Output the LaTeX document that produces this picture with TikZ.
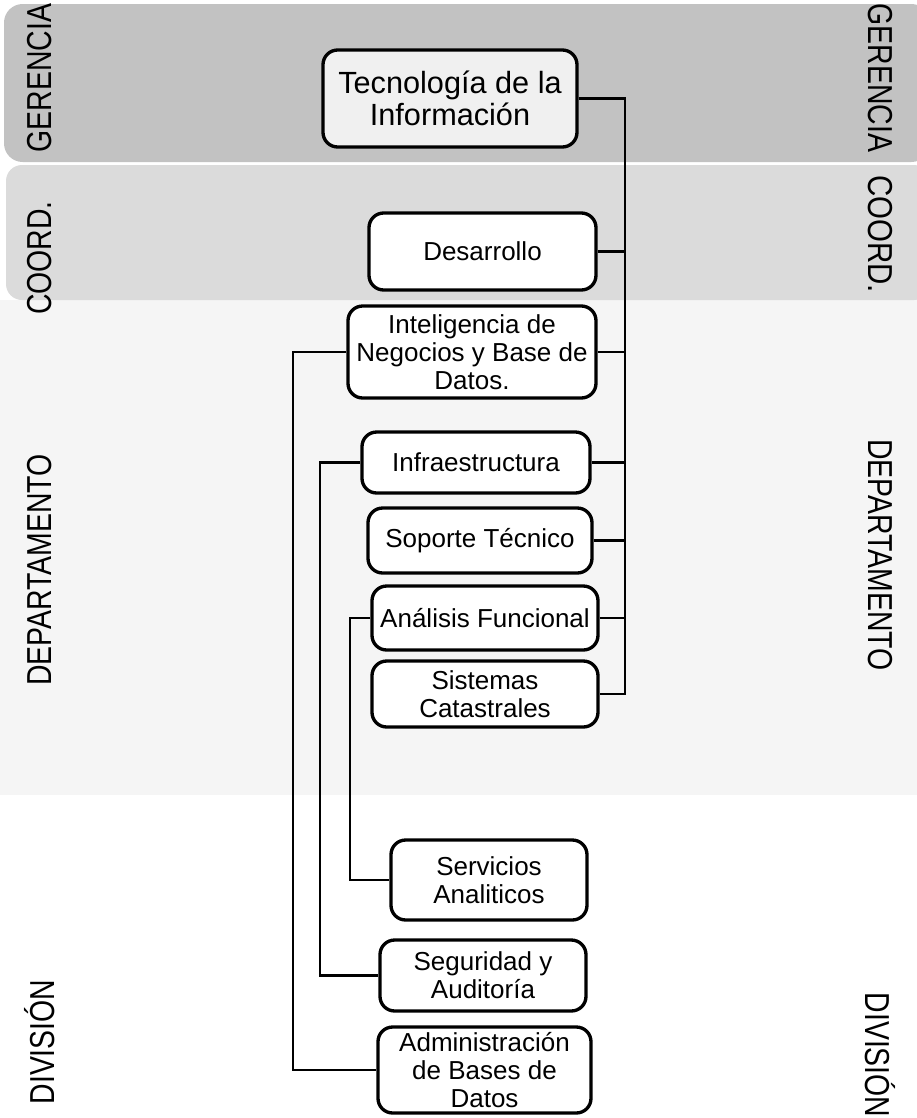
\documentclass[tikz,border=0pt]{standalone}
\usepackage{fontspec}
\setmainfont{Liberation Sans}
\begin{document}
\begin{tikzpicture}[x=0.75pt,y=-0.75pt,
  unit/.style={draw=black,line width=2.5pt,rounded corners=11pt,fill=white,align=center,
    inner sep=2pt,font=\fontsize{19.5}{21}\selectfont},
  conn/.style={draw=black,line width=1.8pt},
  band/.style={font=\fontsize{26}{28}\selectfont,inner sep=0pt}]
\useasboundingbox (0,0) rectangle (917,1118);
% bands
\fill[gray!8] (0,300) rectangle (917,795);
\fill[gray!28,rounded corners=12pt] (6,165) rectangle (930,300);
\fill[gray!48,rounded corners=14pt] (4,4) rectangle (930,162);
% band labels left
\node[band,rotate=90] (lg) at (40,78) {\scalebox{0.82}[1]{GERENCIA}};
\node[band,rotate=90] (lc) at (40,258) {\scalebox{0.82}[1]{COORD.}};
\node[band,rotate=90] (ld) at (40,570) {\scalebox{0.82}[1]{DEPARTAMENTO}};
\node[band,rotate=90] (lv) at (40,1042) {\scalebox{0.82}[1]{DIVISIÓN}};
% band labels right
\node[band,rotate=-90] (rg) at (880,78) {\scalebox{0.82}[1]{GERENCIA}};
\node[band,rotate=-90] (rc) at (880,234) {\scalebox{0.85}[1]{COORD.}};
\node[band,rotate=-90] (rd) at (880,555) {\scalebox{0.82}[1]{DEPARTAMENTO}};
\node[band,rotate=-90] (rv) at (880,1055) {\scalebox{0.82}[1]{DIVISIÓN}};
% units
\node[unit,fill=gray!12,minimum width=190.5pt,minimum height=72.75pt,font=\fontsize{23}{23.5}\selectfont] (tec) at (450,98.5) {Tecnología de la\\Información};
\node[unit,minimum width=170.25pt,minimum height=57.75pt] (des) at (482.5,251.5) {Desarrollo};
\node[unit,minimum width=186pt,minimum height=69pt] (int) at (472,352) {Inteligencia de\\Negocios y Base de\\Datos.};
\node[unit,minimum width=171pt,minimum height=45.75pt] (inf) at (476,462.5) {Infraestructura};
\node[unit,minimum width=168pt,minimum height=48.75pt] (sop) at (480,540.5) {Soporte Técnico};
\node[unit,minimum width=169.5pt,minimum height=48pt] (ana) at (485,618) {Análisis Funcional};
\node[unit,minimum width=169.5pt,minimum height=49.5pt] (sis) at (485,694) {Sistemas\\Catastrales};
\node[unit,minimum width=147pt,minimum height=60pt] (ser) at (489,880) {Servicios\\Analiticos};
\node[unit,minimum width=154.5pt,minimum height=53.25pt] (seg) at (483,975.5) {Seguridad y\\Auditoría};
\node[unit,minimum width=159.75pt,minimum height=64.5pt] (adm) at (484.5,1070) {Administración\\de Bases de\\Datos};
% buses
\coordinate (rb) at (625,0);
\coordinate (lb1) at (293,0);
\coordinate (lb2) at (320,0);
\coordinate (lb3) at (350,0);
\draw[conn] (tec.east) -| (rb |- sis.east) -- (sis.east);
\foreach \n in {des,int,inf,sop,ana}{\draw[conn] (\n.east) -- (\n.east -| rb);}
\draw[conn] (int.west) -| (lb1 |- adm.west) -- (adm.west);
\draw[conn] (inf.west) -| (lb2 |- seg.west) -- (seg.west);
\draw[conn] (ana.west) -| (lb3 |- ser.west) -- (ser.west);
\end{tikzpicture}
\end{document}
